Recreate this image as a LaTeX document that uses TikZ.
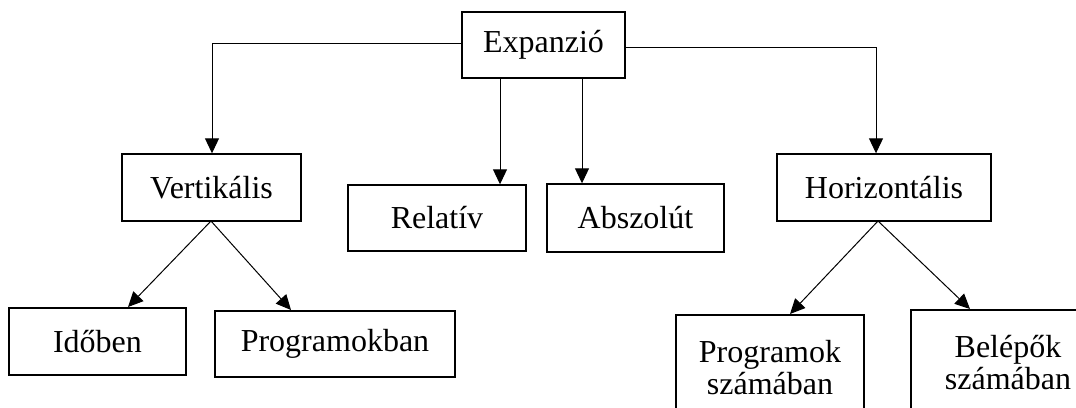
\documentclass[tikz,border=0pt]{standalone}
\usepackage{fontspec}
\setmainfont{Liberation Serif}
\usetikzlibrary{arrows.meta}
\begin{document}
\begin{tikzpicture}[x=1pt,y=-1pt,
  box/.style={draw=black, line width=1.4pt, fill=white, inner sep=0pt, align=center,
    font=\fontsize{32}{32}\selectfont},
  conn/.style={draw=black, line width=1pt, -{Triangle[length=15pt,width=14pt]}},
  plain/.style={draw=black, line width=1pt}]
\useasboundingbox (0,0) rectangle (1076,407);
\clip (0,0) rectangle (1076,407);
\fill[white] (0,0) rectangle (1076,407);
\node[box, minimum width=163pt, minimum height=66pt] (exp) at (543.5,45) {Expanzió};
\node[box, minimum width=179pt, minimum height=67pt] (vert) at (211.5,187.5) {Vertikális};
\node[box, minimum width=178pt, minimum height=66pt] (rel) at (437,218) {Relatív};
\node[box, minimum width=177pt, minimum height=68pt] (absz) at (635.5,218) {Abszolút};
\node[box, minimum width=214pt, minimum height=67pt] (hor) at (884,187.5) {Horizontális};
\node[box, minimum width=177pt, minimum height=67pt] (ido) at (97.5,341.5) {Időben};
\node[box, minimum width=240pt, minimum height=66pt] (prog) at (335,344) {Programokban};
\node[box, minimum width=188pt, minimum height=105pt] (progsz) at (770,367.5) {Programok\\számában};
\node[box, minimum width=194pt, minimum height=105pt] (bel) at (1008,362.5) {Belépők\\számában};
% connectors
\coordinate (lc) at (212,43);
\coordinate (rc) at (876,47);
\draw[plain] (exp.west |- lc) -- (lc);
\draw[conn] (lc) -- (lc |- vert.north);
\draw[plain] (exp.east |- rc) -- (rc);
\draw[conn] (rc) -- (rc |- hor.north);
\draw[conn] (500,78) coordinate (e1) -- (e1 |- rel.north);
\draw[conn] (582,78) coordinate (e2) -- (e2 |- absz.north);
\coordinate (va) at (211,221);
\coordinate (ha) at (878,221);
\draw[conn] (va) -- (128,307);
\draw[conn] (va) -- (291,310);
\draw[conn] (ha) -- (790,314);
\draw[conn] (ha) -- (970,309);
\end{tikzpicture}
\end{document}
